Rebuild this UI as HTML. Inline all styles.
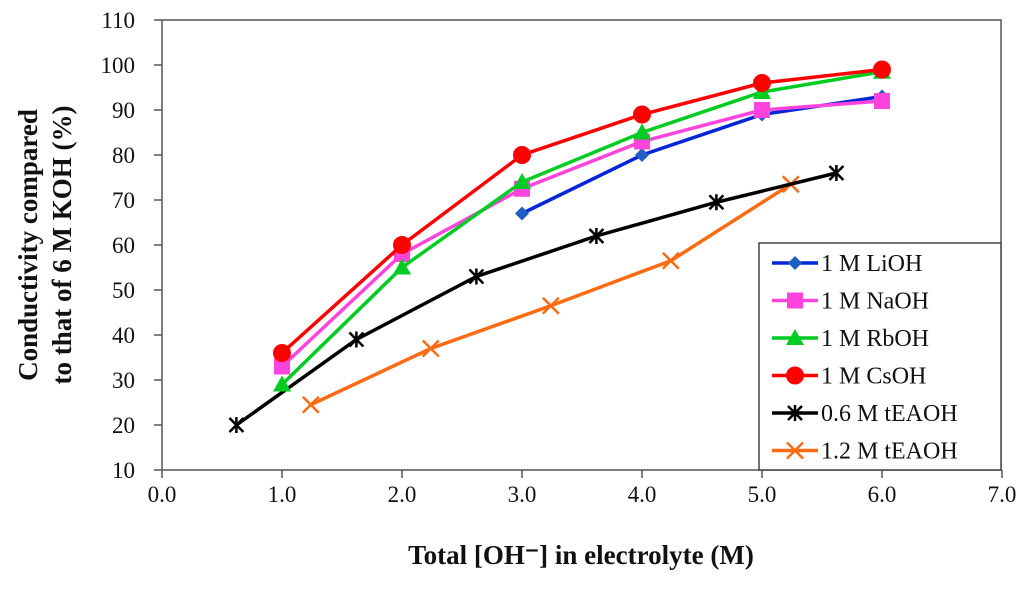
<!DOCTYPE html>
<html><head><meta charset="utf-8"><style>
body{margin:0;background:#fff;}
svg text{font-family:"Liberation Serif",serif;fill:#111;}
</style></head><body>
<svg width="1024" height="584" viewBox="0 0 1024 584">
<g id="g"></g>
</svg>
<script>
const xTicks=[0,1,2,3,4,5,6,7];
const yTicks=[10,20,30,40,50,60,70,80,90,100,110];
const names=["1 M LiOH","1 M NaOH","1 M RbOH","1 M CsOH","0.6 M tEAOH","1.2 M tEAOH"];
const xLi=[3,4,5,6], yLi=[67,80,89,93];
const xNa=[1,2,3,4,5,6], yNa=[33,58,72.5,83,90,92];
const xRb=[1,2,3,4,5,6], yRb=[29,55,74,85,94,98.5];
const xCs=[1,2,3,4,5,6], yCs=[36,60,80,89,96,99];
const xT6=[0.62,1.62,2.62,3.62,4.62,5.62], yT6=[20,39,53,62,69.5,76];
const xT12=[1.24,2.24,3.24,4.24,5.24], yT12=[24.5,37,46.5,56.5,73.5];

const NS="http://www.w3.org/2000/svg";
const g=document.getElementById('g');
const L=162,R=1001,T=20,B=470;
const sx=v=>L+(v-0)/7*(1002-L);
const sy=v=>B-(v-10)/100*(B-T);
function mk(tag,a,p){const e=document.createElementNS(NS,tag);for(const k in a)e.setAttribute(k,a[k]);(p||g).appendChild(e);return e;}

const frame=mk('rect',{x:L,y:T,width:R-L,height:B-T,fill:'none',stroke:'#555','stroke-width':1.5});


yTicks.forEach(v=>{
  const t=mk('line',{x1:L-8,x2:L,y1:sy(v),y2:sy(v),stroke:'#555','stroke-width':1.5});
  
  
  const tx=mk('text',{x:L-27,y:sy(v)+8,'text-anchor':'end','font-size':23});
  tx.textContent=v;
  
  
});
xTicks.forEach(v=>{
  const t=mk('line',{x1:sx(v),x2:sx(v),y1:B,y2:B+8,stroke:'#555','stroke-width':1.5});
  
  
  const tx=mk('text',{x:sx(v),y:B+32,'text-anchor':'middle','font-size':23});
  tx.textContent=v.toFixed(1);
  
  
});

function marker(type,color,x,y,p){
  let e;
  if(type==='diamond')e=mk('polygon',{points:`${x},${y-7} ${x+7},${y} ${x},${y+7} ${x-7},${y}`,fill:'#1f5fbf'},p);
  else if(type==='square')e=mk('rect',{x:x-8,y:y-8,width:16,height:16,fill:color},p);
  else if(type==='tri')e=mk('polygon',{points:`${x},${y-9} ${x+9},${y+7} ${x-9},${y+7}`,fill:color},p);
  else if(type==='circle')e=mk('circle',{cx:x,cy:y,r:9,fill:color},p);
  else if(type==='star'){e=mk('path',{d:`M${x-7},${y-7}L${x+7},${y+7}M${x-7},${y+7}L${x+7},${y-7}M${x},${y-8}L${x},${y+8}`,stroke:color,'stroke-width':2.5,fill:'none'},p);}
  else {e=mk('path',{d:`M${x-8},${y-8}L${x+8},${y+8}M${x-8},${y+8}L${x+8},${y-8}`,stroke:color,'stroke-width':2.5,fill:'none'},p);}
  
  
}
const series=[
 [xT12,yT12,'#ff6a13','x'],
 [xT6,yT6,'#000','star'],
 [xLi,yLi,'#0026d9','diamond'],
 [xNa,yNa,'#ff44dd','square'],
 [xRb,yRb,'#00cc22','tri'],
 [xCs,yCs,'#ff0000','circle']
];
const snames=[names[5],names[4],names[0],names[1],names[2],names[3]];
series.forEach((s,i)=>{
  const grp=mk('g',{});
  
  
  const pts=s[0].map((x,j)=>sx(x)+','+sy(s[1][j])).join(' ');
  mk('polyline',{points:pts,fill:'none',stroke:s[2],'stroke-width':3.5},grp);
  s[0].forEach((x,j)=>marker(s[3],s[2],sx(x),sy(s[1][j]),grp));
});

const lg=mk('g',{});


mk('rect',{x:759,y:243,width:242,height:227,fill:'#fff',stroke:'#444','stroke-width':1.5},lg);
const legOrder=[[names[0],'#0026d9','diamond'],[names[1],'#ff44dd','square'],[names[2],'#00cc22','tri'],[names[3],'#ff0000','circle'],[names[4],'#000','star'],[names[5],'#ff6a13','x']];
legOrder.forEach((e,i)=>{
  const y=263+i*37.5;
  const it=mk('g',{},lg);
  
  
  mk('line',{x1:772,x2:818,y1:y,y2:y,stroke:e[1],'stroke-width':3.5},it);
  marker(e[2],e[1],795,y,it);
  const t=mk('text',{x:821,y:y+8,'font-size':24},it);
  t.textContent=e[0];
});

const xt=mk('text',{x:581,y:564,'text-anchor':'middle','font-size':27,'font-weight':'bold'});
xt.textContent='Total [OH\u207B] in electrolyte (M)';


const yt=mk('text',{transform:'translate(37,245) rotate(-90)','text-anchor':'middle','font-size':27,'font-weight':'bold'});


const t1=mk('tspan',{x:0,y:0},yt);t1.textContent='Conductivity compared';
const t2=mk('tspan',{x:0,y:34},yt);t2.textContent='to that of 6 M KOH (%)';
</script>
</body></html>
